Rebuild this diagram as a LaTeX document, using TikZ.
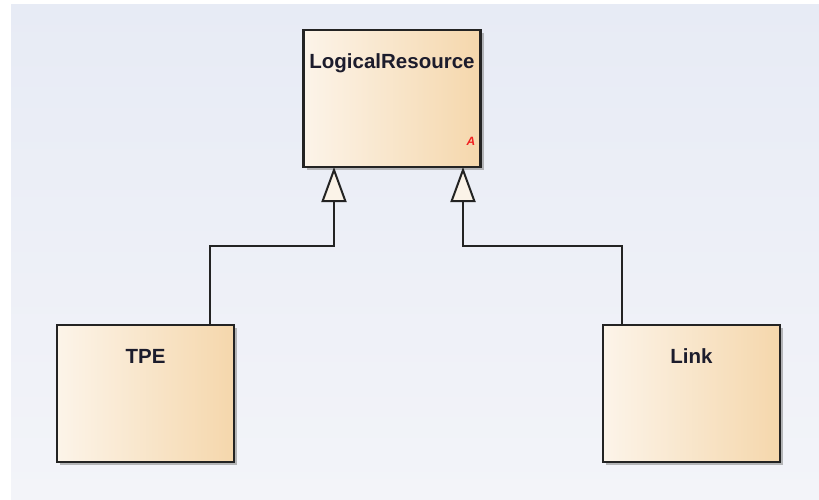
\documentclass[tikz,border=0pt]{standalone}
\usepackage{fontspec}
\setmainfont{Liberation Sans}
\usetikzlibrary{arrows.meta,shadows}
\definecolor{bgtop}{HTML}{E7EBF5}
\definecolor{bgbot}{HTML}{F3F4F9}
\definecolor{boxL}{HTML}{FCF4E9}
\definecolor{boxR}{HTML}{F5D7AC}
\definecolor{trifill}{HTML}{FBF3E8}
\definecolor{edge}{HTML}{232323}
\definecolor{txt}{HTML}{1C1C2C}
\definecolor{absred}{HTML}{F02020}
\tikzset{
  classbox/.style={draw=edge, line width=2.4pt, rectangle, left color=boxL, right color=boxR,
    minimum width=177pt, minimum height=137pt, inner sep=0pt, outer sep=0pt,
    drop shadow={shadow xshift=3pt, shadow yshift=-3pt, fill=black!45, opacity=0.6}},
  classname/.style={anchor=base, inner sep=0pt, text=txt, font=\bfseries\fontsize{20.5}{23}\selectfont},
  gen/.style={draw=edge, line width=2pt, -{Triangle[length=35pt,width=25pt,fill=trifill,line width=2pt]}},
}
\begin{document}
\begin{tikzpicture}
\useasboundingbox (0pt,0pt) rectangle (819pt,-499pt);
\shade[top color=bgtop, bottom color=bgbot] (11pt,-4pt) rectangle (819pt,-499pt);
\node[classbox] (lr) at (392pt,-98.5pt) {};
\node[classbox] (tpe) at (145.5pt,-393.5pt) {};
\node[classbox] (link) at (691.5pt,-393.5pt) {};
\node[classname] (lrname) at ([yshift=-38pt]lr.north) {LogicalResource};
\node[classname] (tpename) at ([yshift=-38pt]tpe.north) {TPE};
\node[classname] (linkname) at ([yshift=-38pt]link.north) {Link};
\node[anchor=base east, inner sep=0pt, text=absred, font=\bfseries\itshape\fontsize{12}{14}\selectfont] (abs) at ([xshift=-5pt,yshift=22pt]lr.south east) {A};
\coordinate (lrL) at ([xshift=-58pt]lr.south);
\coordinate (lrR) at ([xshift=71pt]lr.south);
\coordinate (tpeT) at ([xshift=64.5pt]tpe.north);
\coordinate (linkT) at ([xshift=-69.5pt]link.north);
\coordinate (bend) at (0pt,-246pt);
\draw[gen] (tpeT) |- (bend -| lrL) -- (lrL);
\draw[gen] (linkT) |- (bend -| lrR) -- (lrR);
\end{tikzpicture}
\end{document}
